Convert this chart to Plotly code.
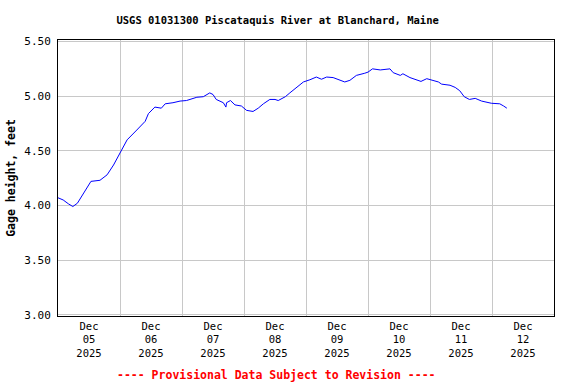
import plotly.graph_objects as go
import pandas as pd

times = [
    "2025-12-05 00:00", "2025-12-05 02:00", "2025-12-05 04:00", "2025-12-05 05:45", "2025-12-05 07:30",
    "2025-12-05 09:15", "2025-12-05 11:00", "2025-12-05 12:45", "2025-12-05 16:15", "2025-12-05 19:00",
    "2025-12-05 21:30", "2025-12-06 00:00", "2025-12-06 02:45", "2025-12-06 06:30", "2025-12-06 09:45",
    "2025-12-06 11:00", "2025-12-06 13:30", "2025-12-06 16:00", "2025-12-06 17:30", "2025-12-06 20:30",
    "2025-12-06 23:15", "2025-12-07 01:45", "2025-12-07 04:30", "2025-12-07 05:45", "2025-12-07 08:15",
    "2025-12-07 10:45", "2025-12-07 12:00", "2025-12-07 13:15", "2025-12-07 16:00", "2025-12-07 17:00",
    "2025-12-07 17:15", "2025-12-07 18:45", "2025-12-07 20:30", "2025-12-07 23:00", "2025-12-08 01:00",
    "2025-12-08 03:30", "2025-12-08 05:30", "2025-12-08 07:30", "2025-12-08 10:00", "2025-12-08 12:00",
    "2025-12-08 13:15", "2025-12-08 16:00", "2025-12-08 17:45", "2025-12-08 20:30", "2025-12-08 23:00",
    "2025-12-09 01:30", "2025-12-09 04:00", "2025-12-09 06:00", "2025-12-09 08:00", "2025-12-09 10:30",
    "2025-12-09 12:45", "2025-12-09 15:00", "2025-12-09 17:00", "2025-12-09 19:30", "2025-12-09 22:45",
    "2025-12-10 00:00", "2025-12-10 01:45", "2025-12-10 04:45", "2025-12-10 08:30", "2025-12-10 09:45",
    "2025-12-10 12:30", "2025-12-10 13:30", "2025-12-10 16:15", "2025-12-10 18:45", "2025-12-10 20:30",
    "2025-12-10 22:45", "2025-12-11 00:30", "2025-12-11 03:15", "2025-12-11 04:30", "2025-12-11 07:45",
    "2025-12-11 09:45", "2025-12-11 11:30", "2025-12-11 13:15", "2025-12-11 15:15", "2025-12-11 17:30",
    "2025-12-11 20:00", "2025-12-11 23:45", "2025-12-12 03:00", "2025-12-12 04:30", "2025-12-12 05:45",
]
gage_height = [
    4.07, 4.05, 4.015, 3.99, 4.02,
    4.085, 4.16, 4.22, 4.23, 4.28,
    4.37, 4.48, 4.60, 4.69, 4.77,
    4.84, 4.90, 4.89, 4.93, 4.94,
    4.955, 4.96, 4.98, 4.99, 4.995,
    5.03, 5.015, 4.97, 4.94, 4.90,
    4.94, 4.96, 4.92, 4.91, 4.87,
    4.86, 4.89, 4.93, 4.97, 4.97,
    4.96, 4.995, 5.03, 5.08, 5.13,
    5.15, 5.175, 5.155, 5.175, 5.17,
    5.15, 5.13, 5.145, 5.19, 5.21,
    5.22, 5.25, 5.24, 5.25, 5.215,
    5.19, 5.205, 5.17, 5.15, 5.135,
    5.16, 5.15, 5.13, 5.11, 5.10,
    5.08, 5.05, 4.995, 4.97, 4.98,
    4.955, 4.935, 4.93, 4.91, 4.89,
]

day_labels = ["05", "06", "07", "08", "09", "10", "11", "12"]
label_times = [f"2025-12-{d} 12:00" for d in day_labels]
label_text = [f"Dec<br>{d}<br>2025" for d in day_labels]
grid_times = [f"2025-12-{d:02d} 00:00" for d in range(6, 13)]
y_ticks = [3.0, 3.5, 4.0, 4.5, 5.0, 5.5]

FONT = "DejaVu Sans Mono"

fig = go.Figure()
fig.add_trace(go.Scatter(x=pd.to_datetime(times), y=gage_height, mode="lines",
                         line=dict(color="#0000ff", width=1), showlegend=False))

fig.update_layout(
    width=576, height=384,
    margin=dict(l=58, r=22, t=40, b=68),
    paper_bgcolor="white", plot_bgcolor="white",
    title=dict(text="<b>USGS 01031300 Piscataquis River at Blanchard, Maine</b>",
               x=0.482, xanchor="center", y=0.948, yanchor="middle",
               font=dict(family=FONT, size=10.5, color="black")),
    annotations=[dict(text="<b>---- Provisional Data Subject to Revision ----</b>",
                      xref="paper", yref="paper", x=0.44, y=-0.215,
                      xanchor="center", yanchor="middle", showarrow=False,
                      font=dict(family=FONT, size=11.5, color="#ff0000"))],
)
fig.update_xaxes(
    range=["2025-12-05 00:00", "2025-12-13 00:00"],
    tickmode="array", tickvals=label_times, ticktext=label_text,
    showgrid=False, ticks="", showline=True, linecolor="black", linewidth=1, mirror=True,
    tickfont=dict(family=FONT, size=10.5, color="black"),
    minor=dict(tickmode="array", tickvals=grid_times, showgrid=True,
               gridcolor="#c8c8c8", gridwidth=1, ticks=""),
    zeroline=False, automargin=False,
)
fig.update_yaxes(
    range=[2.988, 5.514],
    tickmode="array", tickvals=y_ticks, tickformat=".2f",
    showgrid=True, gridcolor="#c8c8c8", gridwidth=1,
    ticks="", showline=True, linecolor="black", linewidth=1, mirror=True,
    tickfont=dict(family=FONT, size=11, color="black"),
    ticklabelstandoff=4,
    title=dict(text="<b>Gage height, feet</b>", standoff=6,
               font=dict(family=FONT, size=11.5, color="black")),
    zeroline=False, automargin=False,
)
fig.write_html("out.html", config={"displayModeBar": False},
               post_script="document.body.style.margin='0';document.body.style.padding='0';")
